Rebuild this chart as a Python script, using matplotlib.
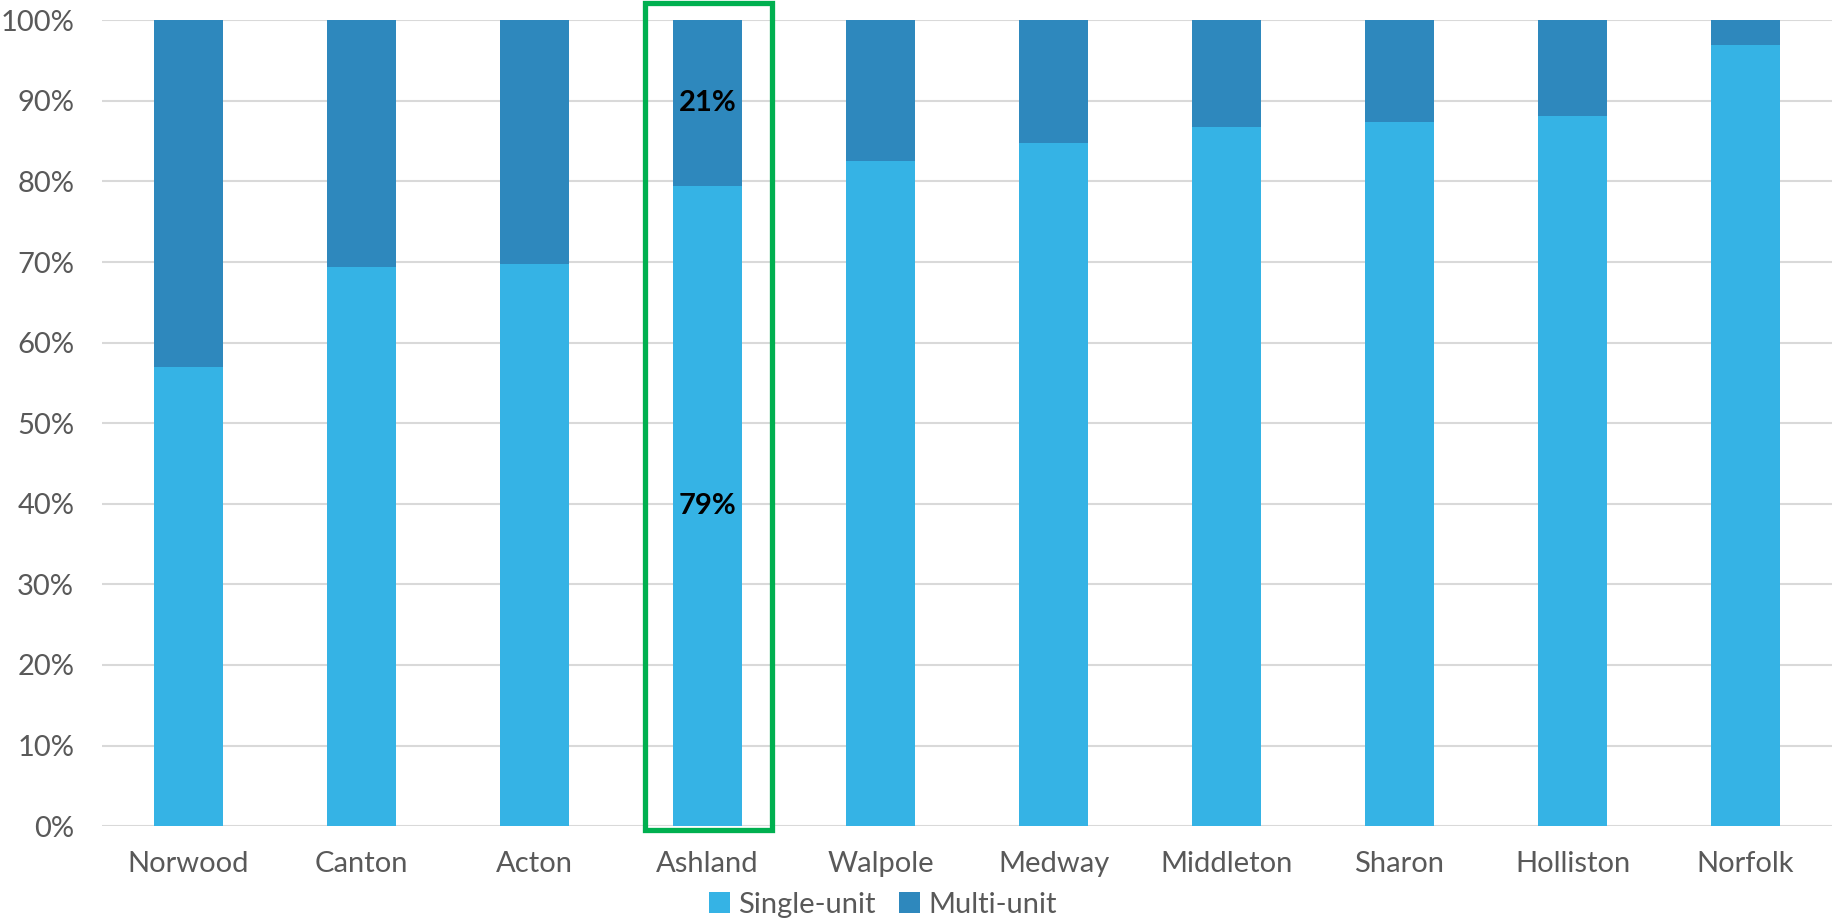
import matplotlib.pyplot as plt
from matplotlib.patches import Rectangle
import numpy as np

plt.rcParams['font.family'] = ['Lato', 'DejaVu Sans']

towns = ["Norwood", "Canton", "Acton", "Ashland", "Walpole",
         "Medway", "Middleton", "Sharon", "Holliston", "Norfolk"]
single_unit = [57.0, 69.4, 69.7, 79.4, 82.6, 84.8, 86.8, 87.4, 88.1, 96.9]
multi_unit = [100 - v for v in single_unit]
highlight = "Ashland"

single_color = "#35B3E5"
multi_color = "#2E88BD"
text_color = "#595959"

fig = plt.figure(figsize=(18.32, 9.23), dpi=100)
ax = fig.add_axes([0.0557, 0.105, 0.9443, 0.873])

x = np.arange(len(towns))
bw = 0.4
b1 = ax.bar(x, single_unit, bw, color=single_color, label="Single-unit", zorder=2)
b2 = ax.bar(x, multi_unit, bw, bottom=single_unit, color=multi_color,
            label="Multi-unit", zorder=2)

ax.set_xlim(-0.5, len(towns) - 0.5)
ax.set_ylim(0, 100)
ax.set_yticks(np.arange(0, 101, 10))
ax.set_yticklabels([f"{v}%" for v in range(0, 101, 10)])
ax.set_xticks(x)
ax.set_xticklabels(towns)
ax.tick_params(axis='both', length=0, labelsize=21, colors=text_color)
ax.tick_params(axis='x', pad=18)
ax.tick_params(axis='y', pad=20)
ax.grid(axis='y', color="#D9D9D9", linewidth=1.5, zorder=0)
for s in ax.spines.values():
    s.set_visible(False)

# value labels and outline for the highlighted town
i = towns.index(highlight)
ax.text(i, single_unit[i] / 2, f"{single_unit[i]:.0f}%", ha='center', va='center',
        fontsize=21, fontweight='bold', color='black', zorder=3)
ax.text(i, single_unit[i] + multi_unit[i] / 2, f"{multi_unit[i]:.0f}%", ha='center',
        va='center', fontsize=21, fontweight='bold', color='black', zorder=3)
ax.add_patch(Rectangle((i - 0.36, -0.5), 0.73, 102.7, fill=False,
                       edgecolor="#00B050", linewidth=3.8, clip_on=False, zorder=4))

leg = fig.legend(handles=[b1, b2], loc='center', bbox_to_anchor=(0.482, 0.02),
                 ncol=2, frameon=False, fontsize=21, handlelength=0.7,
                 handleheight=0.7, handletextpad=0.3, columnspacing=0.8)
for t in leg.get_texts():
    t.set_color(text_color)

fig.savefig("out.png", dpi=100)
